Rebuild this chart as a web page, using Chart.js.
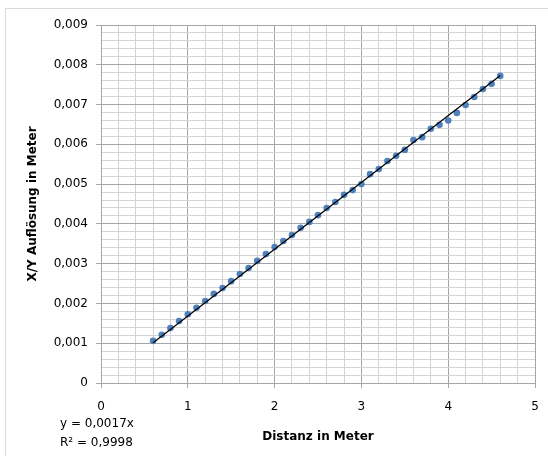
<!DOCTYPE html>
<html>
<head>
<meta charset="utf-8">
<script src="https://cdn.jsdelivr.net/npm/chart.js@4/dist/chart.umd.min.js"></script>
<style>
  html, body { margin: 0; padding: 0; background: #fff; overflow: hidden; }
  #wrap { position: relative; width: 548px; height: 456px; }
  #frame { position: absolute; left: 5px; top: 8px; width: 600px; height: 500px; border: 1px solid #d9d9d9; }
  #chart { position: absolute; left: 0; top: 0; }
</style>
</head>
<body>
<div id="wrap">
  <div id="frame"></div>
  <canvas id="chart" width="548" height="456"></canvas>
</div>
<script>
(function () {
    'use strict';

    // Messwerte: Distanz (m) und X/Y Auflösung (m)
    const distanz = [0.6, 0.7, 0.8, 0.9, 1.0, 1.1, 1.2, 1.3, 1.4, 1.5,
                     1.6, 1.7, 1.8, 1.9, 2.0, 2.1, 2.2, 2.3, 2.4, 2.5,
                     2.6, 2.7, 2.8, 2.9, 3.0, 3.1, 3.2, 3.3, 3.4, 3.5,
                     3.6, 3.7, 3.8, 3.9, 4.0, 4.1, 4.2, 4.3, 4.4, 4.5, 4.6];
    const aufloesung = [0.00106, 0.00121, 0.00138, 0.00156, 0.00173, 0.00189, 0.00206, 0.00224, 0.00239, 0.00256,
                        0.00274, 0.00289, 0.00307, 0.00324, 0.00342, 0.00357, 0.00372, 0.00390, 0.00405, 0.00422,
                        0.00440, 0.00455, 0.00473, 0.00485, 0.00500, 0.00525, 0.00538, 0.00558, 0.00571, 0.00586,
                        0.00611, 0.00618, 0.00639, 0.00649, 0.00660, 0.00679, 0.00699, 0.00719, 0.00739, 0.00752, 0.00772];

    // Trendlinie (Endpunkte)
    const trendX = [0.6, 4.6];
    const trendY = [0.00101, 0.00773];
    const trendText = ['y = 0,0017x', 'R² = 0,9998'];

    const xTitle = 'Distanz in Meter';
    const yTitle = 'X/Y Auflösung in Meter';

    const FONT = 'DejaVu Sans';
    const MAJOR = '#a6a6a6';
    const MINOR = '#d4d4d4';

    const isMajorX = v => Math.abs(v - Math.round(v)) < 1e-6;
    const isMajorY = v => Math.abs(v * 1000 - Math.round(v * 1000)) < 1e-6;

    const trendLabel = {
        id: 'trendLabel',
        afterDraw(chart) {
            const c = chart.ctx;
            c.save();
            c.font = '12px "' + FONT + '"';
            c.fillStyle = '#000';
            c.textBaseline = 'middle';
            c.textAlign = 'left';
            c.fillText(trendText[0], 60, 424);
            c.fillText(trendText[1], 60, 443);
            c.restore();
        }
    };

    new Chart(document.getElementById('chart'), {
        type: 'scatter',
        data: {
            datasets: [{
                label: 'Trend',
                type: 'line',
                data: trendX.map((x, i) => ({ x, y: trendY[i] })),
                borderColor: '#000',
                borderWidth: 1.25,
                pointRadius: 0,
                fill: false,
                order: 1
            }, {
                label: 'Auflösung',
                data: distanz.map((x, i) => ({ x, y: aufloesung[i] })),
                backgroundColor: '#4f81bd',
                borderColor: '#4f81bd',
                pointRadius: 3.3,
                pointBorderWidth: 0,
                order: 2
            }]
        },
        options: {
            responsive: false,
            animation: false,
            layout: { padding: { left: 0, right: 13, top: 25, bottom: 0 } },
            plugins: {
                legend: { display: false },
                tooltip: { enabled: false }
            },
            scales: {
                x: {
                    type: 'linear',
                    min: 0,
                    max: 5,
                    afterFit: s => { s.height = 73; s.paddingLeft = 0; s.paddingRight = 0; },
                    border: { color: MAJOR, width: 1 },
                    grid: {
                        color: ctx => isMajorX(ctx.tick.value) ? MAJOR : MINOR,
                        tickColor: ctx => isMajorX(ctx.tick.value) ? MAJOR : 'rgba(0,0,0,0)',
                        tickLength: 5
                    },
                    ticks: {
                        stepSize: 0.2,
                        autoSkip: false,
                        maxRotation: 0,
                        padding: 12,
                        color: '#000',
                        font: { family: FONT, size: 12 },
                        callback: v => isMajorX(v) ? String(Math.round(v)) : ''
                    },
                    title: {
                        display: true,
                        text: xTitle,
                        color: '#000',
                        font: { family: FONT, size: 12, weight: 'bold' },
                        padding: { top: 0, bottom: 12 }
                    }
                },
                y: {
                    type: 'linear',
                    min: 0,
                    max: 0.009,
                    afterFit: s => { s.width = 101; },
                    border: { color: MAJOR, width: 1 },
                    grid: {
                        color: ctx => isMajorY(ctx.tick.value) ? MAJOR : MINOR,
                        tickColor: ctx => isMajorY(ctx.tick.value) ? MAJOR : 'rgba(0,0,0,0)',
                        tickLength: 5
                    },
                    ticks: {
                        stepSize: 0.0002,
                        autoSkip: false,
                        padding: 8,
                        color: '#000',
                        font: { family: FONT, size: 12 },
                        callback: v => {
                            if (!isMajorY(v)) return '';
                            const n = Math.round(v * 1000);
                            return n === 0 ? '0' : '0,00' + n;
                        }
                    },
                    title: {
                        display: true,
                        text: yTitle,
                        color: '#000',
                        font: { family: FONT, size: 12, weight: 'bold' },
                        padding: { top: 26, bottom: 0 }
                    }
                }
            }
        },
        plugins: [trendLabel]
    });
})();
</script>
</body>
</html>
